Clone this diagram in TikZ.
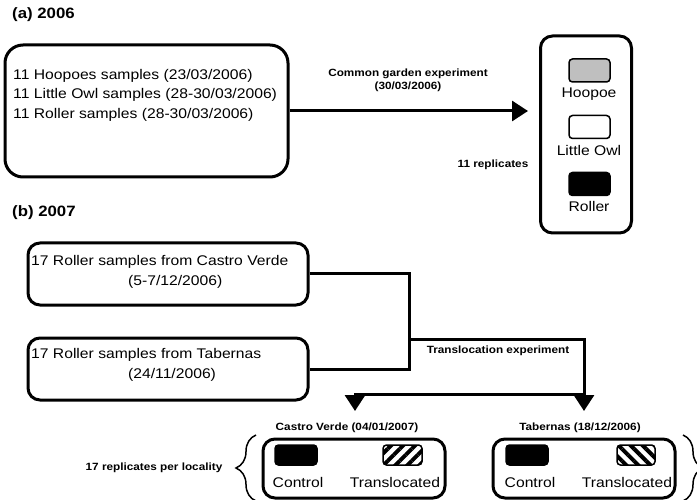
\documentclass[tikz,border=0pt]{standalone}
\usepackage{fontspec}
\setmainfont[FakeStretch=1.12]{Liberation Sans}
\usepackage{tikz}
\usetikzlibrary{arrows.meta,patterns.meta,decorations.pathreplacing}

\begin{document}
\begin{tikzpicture}[x=1pt, y=-1pt,
	panel/.style={draw=black, line width=3pt, rounded corners=12pt, inner sep=0pt},
	swatch/.style={draw=black, line width=1.5pt, rounded corners=3.5pt, minimum width=41pt, minimum height=23pt, inner sep=0pt},
	body/.style={font=\fontsize{14pt}{19.5pt}\selectfont, inner sep=0pt},
	note/.style={font=\bfseries\fontsize{10.5pt}{13pt}\selectfont, inner sep=0pt},
	heading/.style={font=\bfseries\fontsize{15pt}{18pt}\selectfont, inner sep=0pt},
	link/.style={line width=3pt},
	flow/.style={line width=3pt, -{Triangle[length=16pt, width=20pt]}},
	curly/.style={line width=1.5pt, decorate, decoration={brace, amplitude=20pt}},
	hatchR/.style={pattern={Lines[angle=45, distance=8.5pt, line width=4pt]}},
	hatchL/.style={pattern={Lines[angle=-45, distance=8.5pt, line width=4pt]}}]
	
	\useasboundingbox (0, 0) rectangle (697, 500);
	
	\node[heading, anchor=west] (titleA) at (12, 15)     {(a) 2006};
	\node[panel, rounded corners=18pt, minimum width=283pt, minimum height=132pt] (boxA) at (146.5, 111) {};
	\node[body, anchor=west, align=left] (listA) at (13, 95) {11 Hoopoes samples (23/03/2006)\\11 Little Owl samples (28-30/03/2006)\\11 Roller samples (28-30/03/2006)};
	\node[panel, minimum width=91pt, minimum height=197pt] (legend) at (586, 134.5) {};
	\node[swatch, fill=black!25] (hoopoe) at (589.5, 70.5)  {};
	\node[swatch, fill=white]    (owl)    at (589.5, 127)   {};
	\node[swatch, fill=black]    (roller) at (589.5, 184)   {};
	\node[body] (hoopoeLab) at (589, 94)  {Hoopoe};
	\node[body] (owlLab)    at (589, 150) {Little Owl};
	\node[body] (rollerLab) at (589, 206) {Roller};
	\node[note, align=center] (gardenLab) at (408, 80)   {Common garden experiment\\(30/03/2006)};
	\node[note] (replA) at (493, 165)  {11 replicates};
	\draw[flow, shorten >=11pt] (boxA.east) -- (boxA.east -| legend.west);
	
	\node[heading, anchor=west] (titleB) at (12, 213)    {(b) 2007};
	\node[panel, minimum width=280pt, minimum height=62pt] (srcCV)  at (168, 274) {};
	\node[panel, minimum width=280pt, minimum height=62pt] (srcTab) at (168, 369) {};
	\node[body, anchor=west, align=left] (txtCV)  at (31, 272) {17 Roller samples from Castro Verde\\\hspace*{97pt}(5-7/12/2006)};
	\node[body, anchor=west, align=left] (txtTab) at (31, 365) {17 Roller samples from Tabernas\\\hspace*{97pt}(24/11/2006)};
	\coordinate (merge)  at (409, 369);
	\coordinate (split)  at (409, 339);
	\coordinate (fork)   at (584, 394);
	\coordinate (dstTab) at (584, 411);
	\coordinate (dstCV)  at (355, 411);
	\draw[link] (srcCV.east) -| (merge) -- (srcTab.east);
	\draw[flow] (split) -| (dstTab);
	\draw[flow] (fork) -| (dstCV);
	\node[note] (transLab) at (498, 351) {Translocation experiment};
	
	\node[note] (siteCVlab)  at (347, 428) {Castro Verde (04/01/2007)};
	\node[note] (siteTablab) at (580, 428) {Tabernas (18/12/2006)};
	\node[panel, minimum width=182pt, minimum height=59pt] (siteCV)  at (354, 468.5) {};
	\node[panel, minimum width=182pt, minimum height=59pt] (siteTab) at (584, 468.5) {};
	\node[swatch, fill=black, minimum width=42pt, minimum height=20pt] (ctrlCV)   at (296, 455)   {};
	\node[swatch, hatchR, minimum width=39pt, minimum height=20pt]     (transCV)  at (402.5, 455) {};
	\node[swatch, fill=black, minimum width=42pt, minimum height=20pt] (ctrlTab)  at (527, 455)   {};
	\node[swatch, hatchL, minimum width=38pt, minimum height=20pt]     (transTab) at (636, 455)   {};
	\node[body] (ctrlCVlab)   at (298, 482) {Control};
	\node[body] (transCVlab)  at (395, 482) {Translocated};
	\node[body] (ctrlTablab)  at (530, 482) {Control};
	\node[body] (transTablab) at (627, 482) {Translocated};
	\coordinate (braceLtop) at (256, 435);
	\coordinate (braceLbot) at (256, 501);
	\coordinate (braceRtop) at (683, 435);
	\coordinate (braceRbot) at (683, 501);
	\draw[curly] (braceLbot) -- (braceLtop);
	\draw[curly] (braceRtop) -- (braceRbot);
	\node[note] (replB) at (154, 468) {17 replicates per locality};
	
\end{tikzpicture}
\end{document}
